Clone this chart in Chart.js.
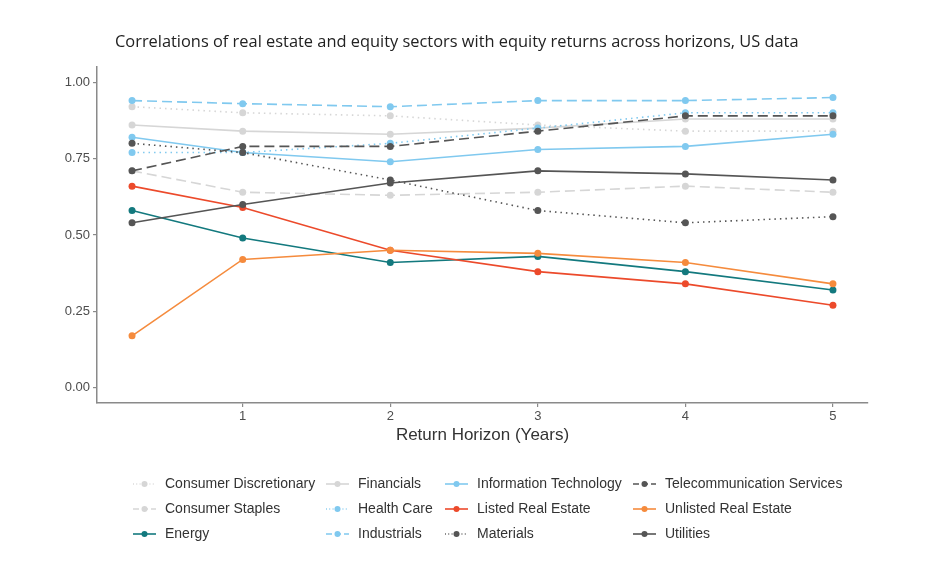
<!DOCTYPE html>
<html>
<head>
<meta charset="utf-8">
<title>Correlations across horizons</title>
<script src="https://cdn.jsdelivr.net/npm/chart.js@4.4.1/dist/chart.umd.min.js"></script>
<style>
  html, body { margin: 0; padding: 0; background: #fff; }
  #wrap { width: 940px; height: 566px; }
</style>
</head>
<body>
<div id="wrap"><canvas id="chart" width="940" height="566"></canvas></div>
<script>
// --- data ---
const horizons = [0.25, 1, 2, 3, 4, 5];
const xTicks = [1, 2, 3, 4, 5];
const yTicks = [0, 0.25, 0.5, 0.75, 1];

const sectorNames = [
    'Consumer Discretionary', 'Consumer Staples', 'Energy',
    'Financials', 'Health Care', 'Industrials',
    'Information Technology', 'Listed Real Estate', 'Materials',
    'Telecommunication Services', 'Unlisted Real Estate', 'Utilities'
];

const consumerDiscretionary = [0.92, 0.90, 0.89, 0.86, 0.84, 0.84];
const consumerStaples       = [0.71, 0.64, 0.63, 0.64, 0.66, 0.64];
const energy                = [0.58, 0.49, 0.41, 0.43, 0.38, 0.32];
const financials            = [0.86, 0.84, 0.83, 0.85, 0.88, 0.88];
const healthCare            = [0.77, 0.77, 0.80, 0.85, 0.90, 0.90];
const industrials           = [0.94, 0.93, 0.92, 0.94, 0.94, 0.95];
const infoTech              = [0.82, 0.77, 0.74, 0.78, 0.79, 0.83];
const listedRealEstate      = [0.66, 0.59, 0.45, 0.38, 0.34, 0.27];
const materials             = [0.80, 0.77, 0.68, 0.58, 0.54, 0.56];
const telecom               = [0.71, 0.79, 0.79, 0.84, 0.89, 0.89];
const unlistedRealEstate    = [0.17, 0.42, 0.45, 0.44, 0.41, 0.34];
const utilities             = [0.54, 0.60, 0.67, 0.71, 0.70, 0.68];

const seriesValues = [
    consumerDiscretionary, consumerStaples, energy,
    financials, healthCare, industrials,
    infoTech, listedRealEstate, materials,
    telecom, unlistedRealEstate, utilities
];

// --- styles ---
const LIGHT_GREY = '#d6d6d6';
const LIGHT_BLUE = '#80c9ef';
const DARK_GREY = '#555555';
const DASHED = [10, 5];
const DOTTED = [1.5, 4];
const SOLID = [];

const seriesColors = [
    LIGHT_GREY, LIGHT_GREY, '#13797e',
    LIGHT_GREY, LIGHT_BLUE, LIGHT_BLUE,
    LIGHT_BLUE, '#ec4a2b', DARK_GREY,
    DARK_GREY, '#f58b3d', DARK_GREY
];
const seriesDashes = [
    DOTTED, DASHED, SOLID,
    SOLID, DOTTED, DASHED,
    SOLID, SOLID, DOTTED,
    DASHED, SOLID, SOLID
];

const TITLE = 'Correlations of real estate and equity sectors with equity returns across horizons, US data';
const SANS = "'Liberation Sans', Arial, sans-serif";

const datasets = sectorNames.map((name, i) => ({
    label: name,
    data: horizons.map((h, j) => ({ x: h, y: seriesValues[i][j] })),
    borderColor: seriesColors[i],
    backgroundColor: seriesColors[i],
    borderDash: seriesDashes[i],
    borderWidth: 1.6,
    pointRadius: 3.5,
    pointBorderWidth: 0,
    tension: 0,
    order: sectorNames.length - i // later series on top, like ggplot
}));

// title + legend grid (3 rows, filled column by column)
const decorPlugin = {
    id: 'decor',
    afterDraw(chart) {
        const ctx = chart.ctx;
        ctx.save();
        ctx.fillStyle = '#222';
        ctx.font = "16.4px 'Open Sans', sans-serif";
        ctx.textBaseline = 'middle';
        ctx.textAlign = 'left';
        ctx.fillText(TITLE, 115, 42);

        const colText = [165, 358, 477, 665];
        const rowY = [484, 509, 534];
        ctx.font = '14px ' + SANS;
        chart.data.datasets.forEach((ds, i) => {
            const col = Math.floor(i / 3);
            const row = i % 3;
            const tx = colText[col];
            const y = rowY[row];
            ctx.strokeStyle = ds.borderColor;
            ctx.lineWidth = ds.borderWidth;
            ctx.setLineDash(ds.borderDash.length ? ds.borderDash.map(d => d * 0.6) : []);
            ctx.beginPath();
            ctx.moveTo(tx - 32, y);
            ctx.lineTo(tx - 9, y);
            ctx.stroke();
            ctx.setLineDash([]);
            ctx.fillStyle = ds.borderColor;
            ctx.beginPath();
            ctx.arc(tx - 20.5, y, 3, 0, Math.PI * 2);
            ctx.fill();
            ctx.fillStyle = '#333';
            ctx.fillText(ds.label, tx, y);
        });
        ctx.restore();
    }
};

new Chart(document.getElementById('chart'), {
    type: 'line',
    data: { datasets },
    options: {
        responsive: false,
        animation: false,
        layout: { padding: { top: 67, right: 72, bottom: 116, left: 0 } },
        plugins: {
            legend: { display: false },
            tooltip: { enabled: false },
            title: { display: false }
        },
        scales: {
            x: {
                type: 'linear',
                min: 0.0125,
                max: 5.2375,
                afterBuildTicks: s => { s.ticks = xTicks.map(v => ({ value: v })); },
                afterFit: s => { s.height = 47; },
                grid: { drawOnChartArea: false, drawTicks: true, tickLength: 4, color: '#8a8a8a', lineWidth: 1.2 },
                border: { color: '#8a8a8a', width: 1.5 },
                ticks: { color: '#4d4d4d', font: { family: SANS, size: 13 }, padding: 2, maxRotation: 0 },
                title: {
                    display: true,
                    text: 'Return Horizon (Years)',
                    color: '#333',
                    font: { family: SANS, size: 17 },
                    padding: { top: 2, bottom: 4 }
                }
            },
            y: {
                type: 'linear',
                min: -0.05,
                max: 1.05,
                afterBuildTicks: s => { s.ticks = yTicks.map(v => ({ value: v })); },
                afterFit: s => { s.width = 97; },
                grid: { drawOnChartArea: false, drawTicks: true, tickLength: 4, color: '#8a8a8a', lineWidth: 1.2 },
                border: { color: '#8a8a8a', width: 1.5 },
                ticks: {
                    color: '#4d4d4d',
                    font: { family: SANS, size: 13 },
                    padding: 3,
                    callback: v => v.toFixed(2)
                }
            }
        }
    },
    plugins: [decorPlugin]
});
</script>
</body>
</html>
